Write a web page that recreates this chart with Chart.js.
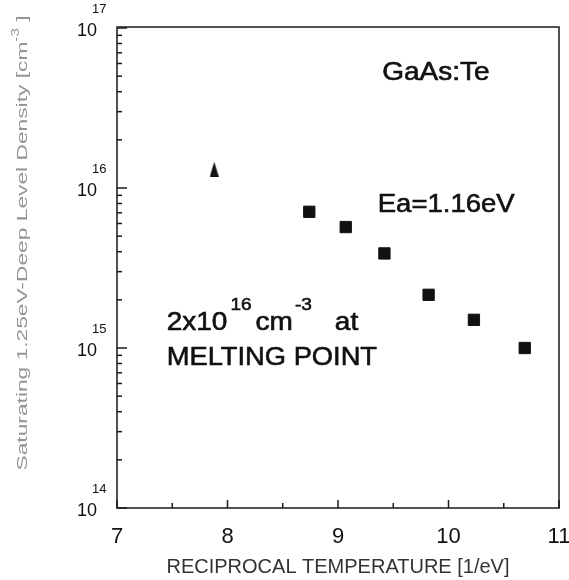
<!DOCTYPE html>
<html><head><meta charset="utf-8">
<script src="https://cdn.jsdelivr.net/npm/chart.js@4.4.0/dist/chart.umd.min.js"></script>
<style>html,body{margin:0;padding:0;background:#fff;}</style>
</head><body>
<canvas id="c" width="569" height="580"></canvas>
<script>
// ---- data ----
const xTickLabels = ['7', '8', '9', '10', '11'];
const yExponents = [14, 15, 16, 17];
const minorMultipliers = [2, 3, 4, 5, 6, 7, 8, 9];
const meltX = [7.88];
const meltY = [1.31e16];
const sqX = [8.74, 9.07, 9.42, 9.82, 10.23, 10.69];
const sqY = [7.1e15, 5.7e15, 3.9e15, 2.15e15, 1.5e15, 1.0e15];
const xTitle = 'RECIPROCAL TEMPERATURE [1/eV]';
const yTitleMain = 'Saturating 1.25eV-Deep Level Density [cm';
const yTitleSup = '-3';
const yTitleTail = ' ]';
const labelMaterial = 'GaAs:Te';
const labelEa = 'Ea=1.16eV';
const labelMelt1 = ['2x10', '16', 'cm', '-3', 'at'];
const labelMelt2 = 'MELTING POINT';

const FONT = '"Liberation Sans", Arial, Helvetica, sans-serif';

// narrow triangle marker
const tri = document.createElement('canvas');
tri.width = 9; tri.height = 15;
(function () {
  const t = tri.getContext('2d');
  t.fillStyle = '#111';
  t.beginPath(); t.moveTo(4.5, 0); t.lineTo(9, 15); t.lineTo(0, 15); t.closePath(); t.fill();
})();

function stretchText(ctx, text, x, y, size, stretch) {
  ctx.save();
  ctx.font = size + 'px ' + FONT;
  ctx.translate(x, y);
  ctx.scale(stretch, 1);
  ctx.lineWidth = 0.6;
  ctx.strokeStyle = ctx.fillStyle;
  ctx.fillText(text, 0, 0);
  ctx.strokeText(text, 0, 0);
  const w = ctx.measureText(text).width * stretch;
  ctx.restore();
  return w;
}

const deco = {
  id: 'deco',
  afterDraw(chart) {
    const { ctx, chartArea: a, scales: { x, y } } = chart;
    ctx.save();
    ctx.strokeStyle = '#1a1a1a';
    ctx.fillStyle = '#111';
    ctx.lineWidth = 1.5;
    // frame
    ctx.strokeRect(a.left, a.top - 1, a.right - a.left, a.bottom - a.top + 1);
    // y ticks (inward)
    yExponents.forEach((e, i) => {
      const py = y.getPixelForValue(Math.pow(10, e));
      ctx.beginPath(); ctx.moveTo(a.left, py); ctx.lineTo(a.left + 10, py); ctx.stroke();
      if (i < yExponents.length - 1) {
        minorMultipliers.forEach(m => {
          const p = y.getPixelForValue(m * Math.pow(10, e));
          ctx.beginPath(); ctx.moveTo(a.left, p); ctx.lineTo(a.left + 5, p); ctx.stroke();
        });
      }
      // labels 10^e
      ctx.textBaseline = 'middle';
      ctx.textAlign = 'right';
      ctx.font = '18px ' + FONT;
      ctx.fillText('10', a.left - 20, py + 3);
      ctx.textAlign = 'left';
      ctx.font = '13px ' + FONT;
      ctx.fillText(String(e), a.left - 25, py - 19);
    });
    // x ticks (inward)
    x.ticks.forEach(t => {
      const px = x.getPixelForValue(t.value);
      const len = Number.isInteger(t.value) ? 8 : 5;
      ctx.beginPath(); ctx.moveTo(px, a.bottom); ctx.lineTo(px, a.bottom - len); ctx.stroke();
    });
    // y title (rotated)
    ctx.save();
    ctx.fillStyle = '#959595';
    ctx.translate(22, 243);
    ctx.rotate(-Math.PI / 2);
    ctx.textBaseline = 'alphabetic';
    ctx.textAlign = 'left';
    ctx.font = '15px ' + FONT;
    const w1 = ctx.measureText(yTitleMain).width;
    const w3 = ctx.measureText(yTitleTail).width;
    ctx.font = '10px ' + FONT;
    const w2 = ctx.measureText(yTitleSup).width;
    const total = w1 + w2 + w3;
    const s = 455 / total;
    ctx.scale(s, 1);
    let cx = -total / 2;
    ctx.font = '15px ' + FONT;
    ctx.fillText(yTitleMain, cx, 5); cx += w1;
    ctx.font = '10px ' + FONT;
    ctx.fillText(yTitleSup, cx, -3); cx += w2;
    ctx.font = '15px ' + FONT;
    ctx.fillText(yTitleTail, cx, 5);
    ctx.restore();
    // annotations
    ctx.textAlign = 'left';
    ctx.textBaseline = 'alphabetic';
    ctx.fillStyle = '#111';
    stretchText(ctx, labelMaterial, x.getPixelForValue(9.40), y.getPixelForValue(4.73e16), 25, 1.12);
    stretchText(ctx, labelEa, x.getPixelForValue(9.36), y.getPixelForValue(7.08e15), 25, 1.1);
    let mx = x.getPixelForValue(7.45);
    const my = y.getPixelForValue(1.296e15);
    mx += stretchText(ctx, labelMelt1[0], mx, my, 25, 1.12) + 3;
    mx += stretchText(ctx, labelMelt1[1], mx, my - 20, 17, 1.12) + 4;
    mx += stretchText(ctx, labelMelt1[2], mx, my, 25, 1.12) + 2;
    mx += stretchText(ctx, labelMelt1[3], mx, my - 20, 17, 1.12) + 23;
    stretchText(ctx, labelMelt1[4], mx, my, 25, 1.12);
    stretchText(ctx, labelMelt2, x.getPixelForValue(7.45), y.getPixelForValue(7.83e14), 26, 1.05);
    ctx.restore();
  }
};

new Chart(document.getElementById('c'), {
  type: 'scatter',
  data: {
    datasets: [
      {
        data: meltX.map((v, i) => ({ x: v, y: meltY[i] })),
        pointStyle: tri, pointRadius: 8,
        backgroundColor: '#111', borderColor: '#111'
      },
      {
        data: sqX.map((v, i) => ({ x: v, y: sqY[i] })),
        pointStyle: 'rect', pointRadius: 8, borderWidth: 1,
        backgroundColor: '#111', borderColor: '#111'
      }
    ]
  },
  options: {
    responsive: false,
    animation: false,
    devicePixelRatio: 1,
    layout: { padding: { top: 28, right: 10, left: 0, bottom: 0 } },
    plugins: { legend: { display: false }, tooltip: { enabled: false } },
    scales: {
      x: {
        type: 'linear', min: 7, max: 11,
        grid: { display: false, drawTicks: false },
        border: { display: false },
        ticks: {
          stepSize: 0.5, autoSkip: false, maxRotation: 0, padding: 16,
          color: '#111', font: { family: FONT, size: 22 },
          callback: (v) => { const i = xTickLabels.indexOf(String(v)); return i >= 0 ? xTickLabels[i] : ''; }
        },
        title: { display: true, text: xTitle, color: '#333', font: { family: FONT, size: 20 }, padding: { top: 0, bottom: 1 } },
        afterFit(s) { s.height = 72; s.paddingLeft = 0; s.paddingRight = 0; }
      },
      y: {
        type: 'logarithmic', min: 1e14, max: 1e17,
        grid: { display: false, drawTicks: false },
        border: { display: false },
        ticks: { display: false },
        afterFit(s) { s.width = 117; s.paddingTop = 0; s.paddingBottom = 0; }
      }
    }
  },
  plugins: [deco]
});
</script>
</body></html>
